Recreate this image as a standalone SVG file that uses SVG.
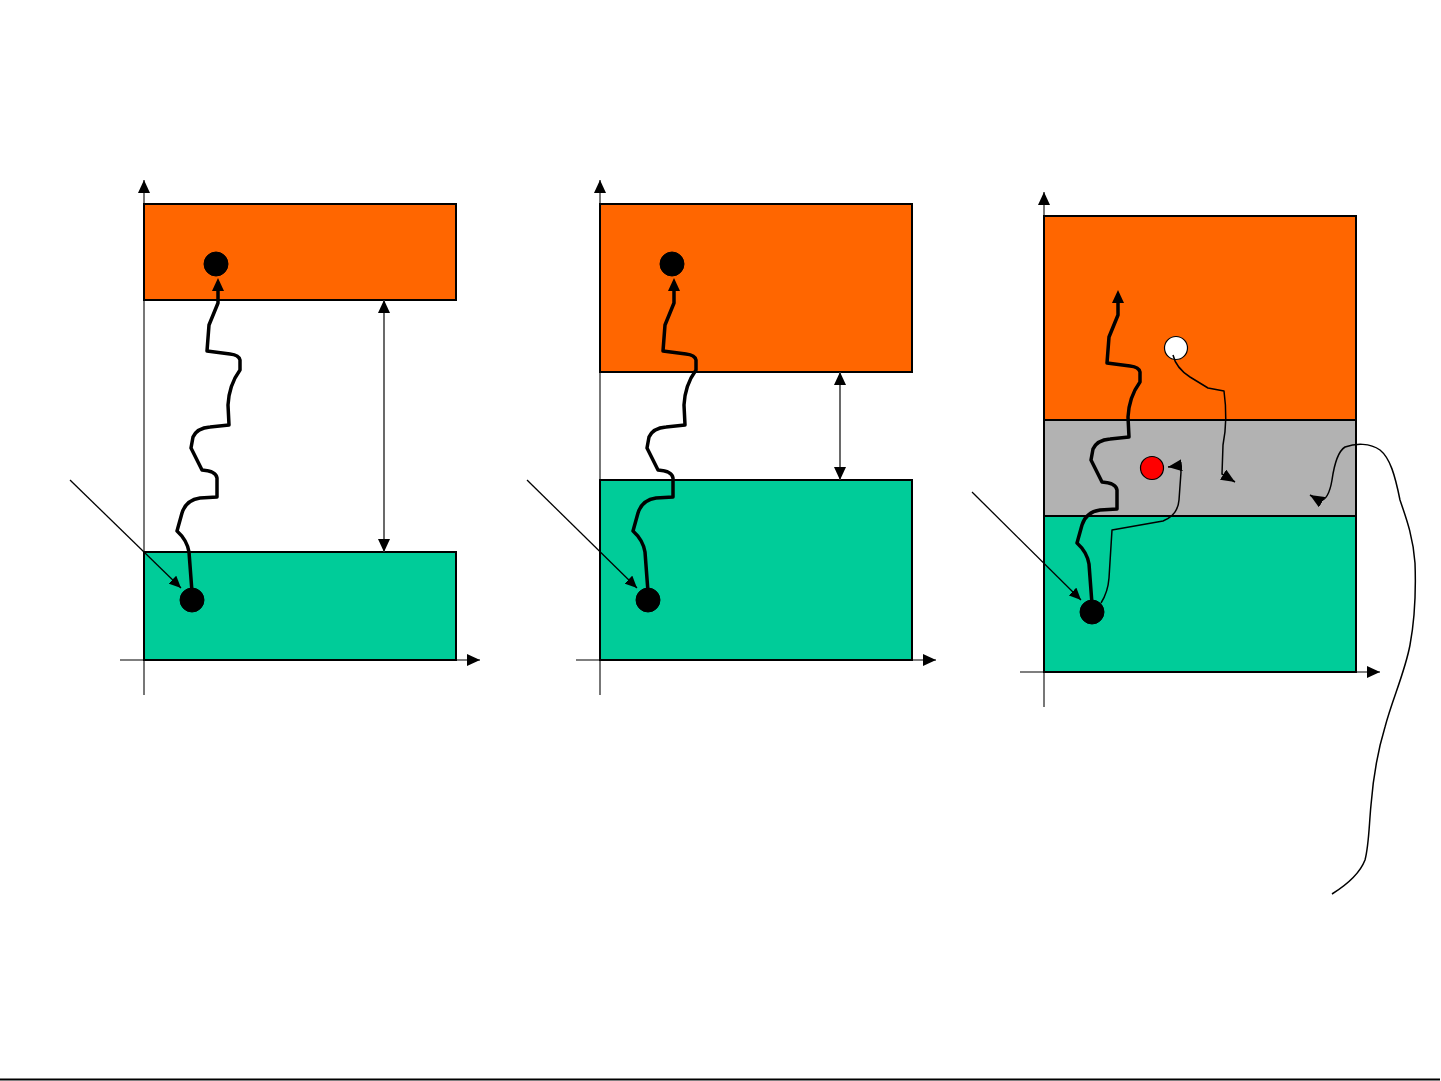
<svg xmlns="http://www.w3.org/2000/svg" width="1441" height="1081" viewBox="0 0 1441 1081">
<defs>
<style>
.axis{stroke:#555;stroke-width:1.6;fill:none}
.box{stroke:#000;stroke-width:2}
.orange{fill:#FF6600}
.green{fill:#00CC99}
.grey{fill:#B2B2B2}
.dot{fill:#000;stroke:#000;stroke-width:1}
.dim{stroke:#444;stroke-width:1.6;fill:none}
.wave{stroke:#000;stroke-width:3.5;fill:none;stroke-linejoin:round;stroke-linecap:butt}
.thin{stroke:#000;stroke-width:1.5;fill:none;stroke-linejoin:round}
.diag{stroke:#000;stroke-width:1.3;fill:none}
</style>
<marker id="ah" markerUnits="userSpaceOnUse" markerWidth="14" markerHeight="12" viewBox="0 0 14 12" refX="13" refY="6" orient="auto"><path d="M0,0 L13,6 L0,12 z" fill="#000"/></marker>
<marker id="ah2" markerUnits="userSpaceOnUse" markerWidth="14" markerHeight="12" viewBox="0 0 14 12" refX="13" refY="6" orient="auto-start-reverse"><path d="M0,0 L13,6 L0,12 z" fill="#000"/></marker>
<marker id="ahw" markerUnits="userSpaceOnUse" markerWidth="14" markerHeight="12" viewBox="0 0 14 12" refX="1" refY="6" orient="auto"><path d="M0,0 L13,6 L0,12 z" fill="#000"/></marker>
<marker id="aht" markerUnits="userSpaceOnUse" markerWidth="13" markerHeight="11" viewBox="0 0 13 11" refX="12" refY="5.5" orient="auto"><path d="M0,0 L12,5.5 L0,11 z" fill="#000"/></marker>
<marker id="ahc" markerUnits="userSpaceOnUse" markerWidth="15" markerHeight="12" viewBox="0 0 15 12" refX="14" refY="6" orient="auto"><path d="M0,0 L14,6 L0,12 z" fill="#000"/></marker>
</defs>
<rect width="1441" height="1081" fill="#fff"/>

<g id="axes">
<path class="axis" d="M144,695 L144,180" marker-end="url(#ah)"/>
<path class="axis" d="M120,660 L480,660" marker-end="url(#ah)"/>
<path class="axis" d="M600,695 L600,180" marker-end="url(#ah)"/>
<path class="axis" d="M576,660 L936,660" marker-end="url(#ah)"/>
<path class="axis" d="M1044,707 L1044,192" marker-end="url(#ah)"/>
<path class="axis" d="M1020,672 L1380,672" marker-end="url(#ah)"/>
</g>

<g id="p1-upper"><rect class="box orange" x="144" y="204" width="312" height="96"/></g>
<g id="p1-lower"><rect class="box green" x="144" y="552" width="312" height="108"/></g>
<g id="p2-upper"><rect class="box orange" x="600" y="204" width="312" height="168"/></g>
<g id="p2-lower"><rect class="box green" x="600" y="480" width="312" height="180"/></g>
<g id="p3-upper"><rect class="box orange" x="1044" y="216" width="312" height="204"/></g>
<g id="p3-middle"><rect class="box grey" x="1044" y="420" width="312" height="96"/></g>
<g id="p3-lower"><rect class="box green" x="1044" y="516" width="312" height="156"/></g>

<g id="p1-dot-top"><circle class="dot" cx="216" cy="264" r="12"/></g>
<g id="p1-dot-bottom"><circle class="dot" cx="192" cy="600" r="12"/></g>
<g id="p2-dot-top"><circle class="dot" cx="672" cy="264" r="12"/></g>
<g id="p2-dot-bottom"><circle class="dot" cx="648" cy="600" r="12"/></g>
<g id="p3-dot-bottom"><circle class="dot" cx="1092" cy="612" r="12"/></g>
<g id="p3-dot-white"><circle cx="1176" cy="348" r="11.5" fill="#fff" stroke="#000" stroke-width="1.2"/></g>
<g id="p3-dot-red"><circle cx="1152" cy="468" r="11.5" fill="#FF0000" stroke="#000" stroke-width="1.2"/></g>

<g id="connectors">
<path class="dim" d="M384,300 L384,552" marker-start="url(#ah2)" marker-end="url(#ah2)"/>
<path class="dim" d="M840,372 L840,480" marker-start="url(#ah2)" marker-end="url(#ah2)"/>

<path class="diag" d="M70,480 L181,588" marker-end="url(#aht)"/>
<path class="diag" d="M527,480 L637,588" marker-end="url(#aht)"/>
<path class="diag" d="M972,492 L1081,600" marker-end="url(#aht)"/>

<path class="wave" d="M192,592 L189,552 Q187,540 177,531 L182,513 Q186,500 200,498 L217,497 L217,478 Q216,471 202,470 L191,448 L193,437 Q197,428 210,427 L229,425 L228,405 Q229,385 240,370 L240,360 Q239,355 230,354 L207,351 L209,325 L218,303 L218,290" marker-end="url(#ahw)"/>
<path class="wave" transform="translate(456,0)" d="M192,592 L189,552 Q187,540 177,531 L182,513 Q186,500 200,498 L217,497 L217,478 Q216,471 202,470 L191,448 L193,437 Q197,428 210,427 L229,425 L228,405 Q229,385 240,370 L240,360 Q239,355 230,354 L207,351 L209,325 L218,303 L218,290" marker-end="url(#ahw)"/>
<path class="wave" transform="translate(900,12)" d="M192,592 L189,552 Q187,540 177,531 L182,513 Q186,500 200,498 L217,497 L217,478 Q216,471 202,470 L191,448 L193,437 Q197,428 210,427 L229,425 L228,405 Q229,385 240,370 L240,360 Q239,355 230,354 L207,351 L209,325 L218,303 L218,290" marker-end="url(#ahw)"/>

<path class="thin" d="M1101,603 Q1108,592 1109,578 L1112,530 L1163,521 Q1178,515 1179,500 L1181,472 Q1181,466 1176,466 L1168,467" marker-end="url(#ahc)"/>
<path class="thin" d="M1173,355 Q1176,368 1190,377 L1208,388 L1224,391 Q1228,420 1223,445 L1222,474 L1235,482" marker-end="url(#ahc)"/>
<path class="thin" d="M1332,894 C1348,884 1360,873 1365,860 C1369,845 1369,825 1371,805 C1373,780 1378,750 1385,727 C1392,700 1405,672 1410,645 C1415,618 1416,590 1415,563 C1413,535 1405,515 1400,500 C1395,475 1390,458 1380,450 C1370,443 1356,443 1345,447 C1337,452 1334,466 1332,480 C1330,492 1327,500 1320,501 L1310,495" marker-end="url(#ahc)"/>
</g>

<line x1="0" y1="1079.5" x2="1440" y2="1079.5" stroke="#000" stroke-width="2"/>
</svg>
